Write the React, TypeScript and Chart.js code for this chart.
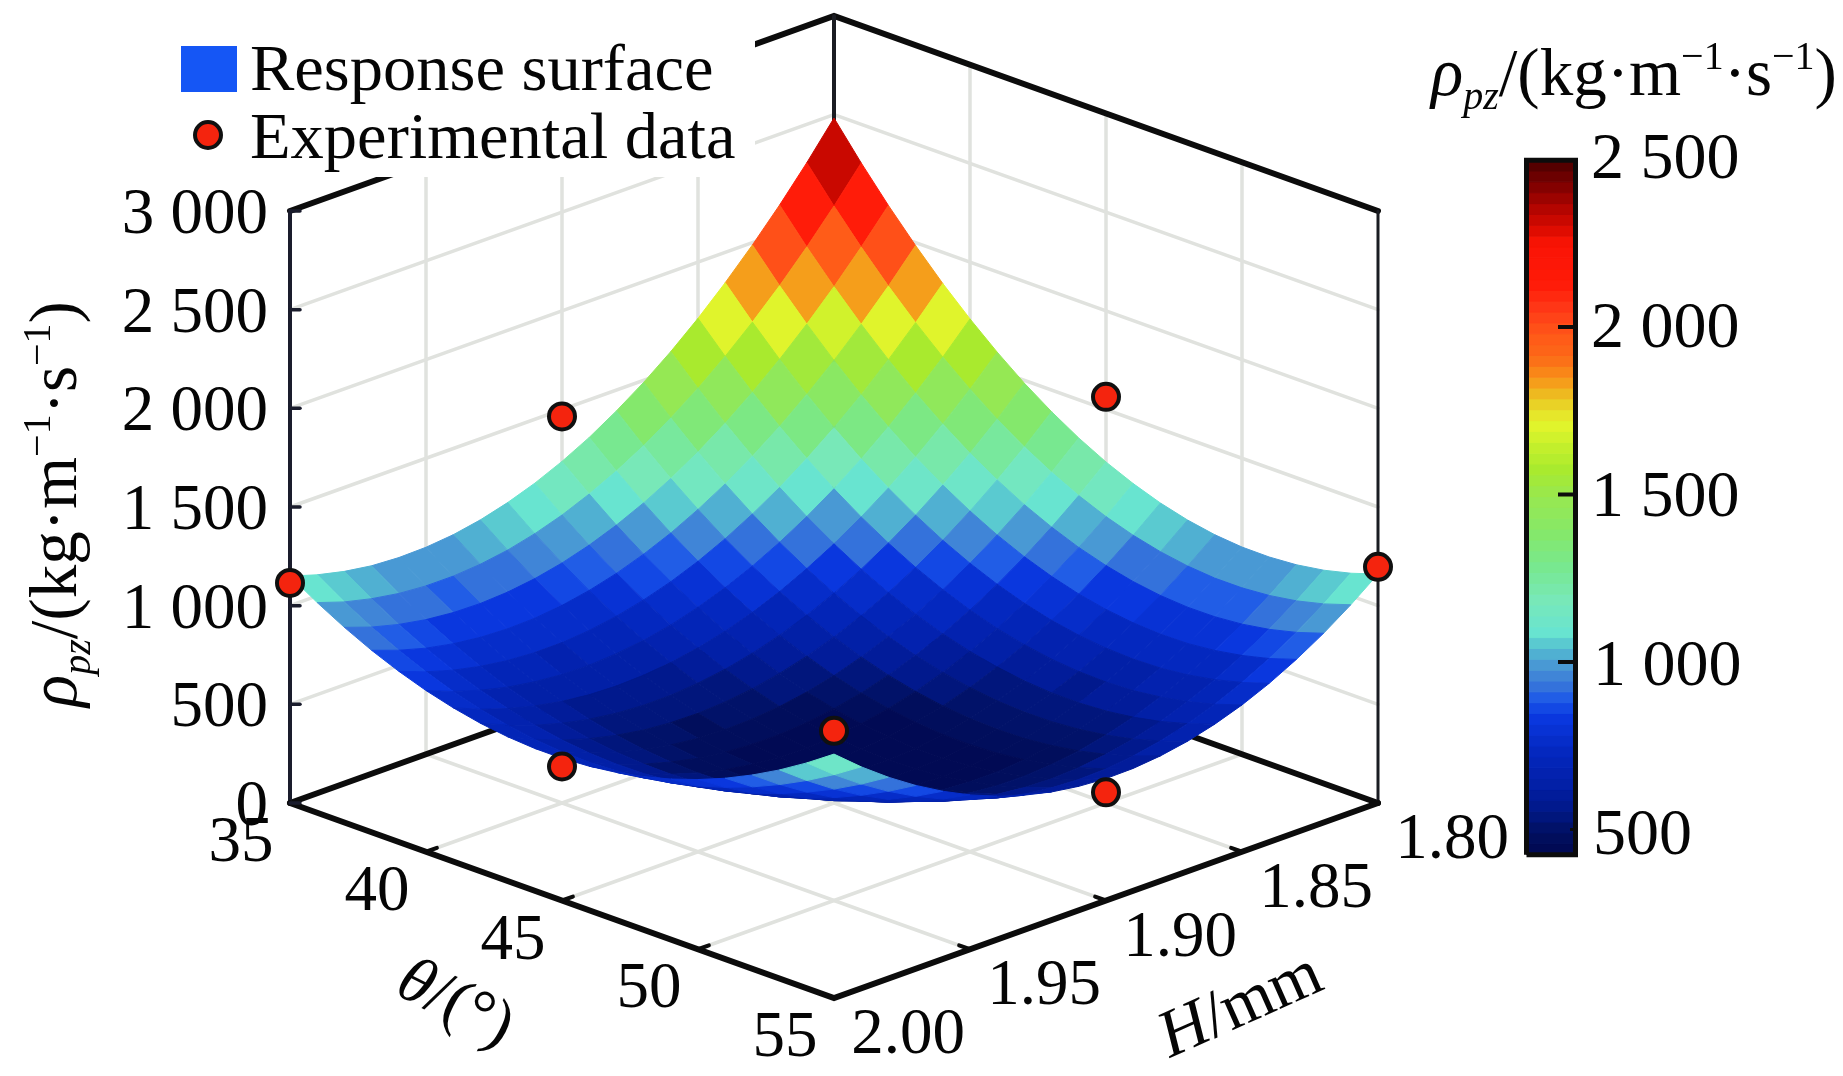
import { useEffect, useRef } from "react";
import { Chart, registerables } from "chart.js";
Chart.register(...registerables);

const thetaValues = [35, 36, 37, 38, 39, 40, 41, 42, 43, 44, 45, 46, 47, 48, 49, 50, 51, 52, 53, 54, 55];
const heightValues = [2.0, 1.99, 1.98, 1.97, 1.96, 1.95, 1.94, 1.93, 1.92, 1.91, 1.9, 1.89, 1.88, 1.87, 1.86, 1.85, 1.84, 1.83, 1.82, 1.81, 1.8];

// one row per height, one column per angle
const surfaceRows = [
  [1150, 1065, 989, 922, 865, 817, 779, 750, 731, 721, 721, 730, 748, 776, 813, 860, 916, 982, 1057, 1142, 1236],
  [1107, 1019, 941, 873, 813, 763, 722, 691, 668, 655, 651, 657, 671, 695, 728, 771, 823, 884, 954, 1033, 1122],
  [1075, 986, 905, 834, 772, 720, 676, 641, 616, 599, 592, 594, 605, 625, 654, 692, 739, 796, 861, 936, 1020],
  [1054, 963, 880, 807, 742, 686, 640, 602, 573, 554, 543, 541, 548, 564, 590, 624, 667, 719, 780, 850, 929],
  [1046, 952, 866, 790, 722, 664, 614, 573, 541, 518, 504, 498, 502, 514, 535, 566, 605, 653, 710, 775, 850],
  [1049, 952, 863, 784, 713, 651, 598, 554, 518, 492, 474, 465, 465, 474, 492, 518, 553, 597, 650, 712, 782],
  [1063, 963, 871, 788, 714, 649, 593, 545, 506, 476, 455, 443, 439, 444, 458, 481, 512, 553, 602, 660, 726],
  [1089, 985, 890, 804, 726, 658, 598, 546, 504, 471, 446, 430, 423, 424, 435, 454, 482, 519, 565, 619, 682],
  [1127, 1019, 920, 830, 749, 676, 613, 558, 512, 475, 446, 427, 416, 415, 422, 437, 462, 496, 538, 589, 649],
  [1176, 1064, 961, 867, 782, 705, 638, 579, 530, 489, 457, 434, 420, 415, 419, 431, 453, 483, 523, 571, 628],
  [1237, 1121, 1013, 915, 825, 745, 673, 611, 558, 513, 478, 451, 434, 425, 426, 436, 454, 482, 518, 564, 618],
  [1309, 1188, 1076, 973, 879, 795, 719, 653, 596, 547, 508, 479, 458, 446, 444, 450, 466, 491, 525, 568, 620],
  [1394, 1267, 1150, 1043, 944, 855, 775, 705, 644, 592, 549, 516, 492, 477, 472, 475, 489, 511, 543, 584, 634],
  [1489, 1358, 1235, 1123, 1020, 926, 842, 767, 702, 646, 600, 563, 536, 518, 510, 511, 522, 542, 571, 611, 659],
  [1596, 1459, 1331, 1214, 1105, 1007, 918, 839, 770, 710, 660, 620, 590, 569, 558, 557, 565, 583, 611, 649, 696],
  [1715, 1572, 1439, 1315, 1202, 1098, 1005, 922, 848, 785, 731, 687, 654, 630, 617, 613, 619, 636, 662, 698, 744],
  [1846, 1696, 1557, 1428, 1309, 1200, 1102, 1014, 936, 869, 812, 765, 728, 702, 686, 680, 684, 699, 724, 759, 804],
  [1988, 1831, 1686, 1551, 1426, 1313, 1209, 1117, 1035, 963, 902, 852, 812, 783, 765, 757, 759, 773, 797, 831, 876],
  [2141, 1978, 1826, 1685, 1555, 1435, 1327, 1229, 1143, 1067, 1003, 949, 907, 875, 854, 844, 845, 857, 880, 914, 959],
  [2306, 2136, 1977, 1829, 1693, 1568, 1455, 1352, 1261, 1182, 1113, 1056, 1011, 977, 954, 942, 942, 953, 975, 1009, 1054],
  [2483, 2305, 2139, 1985, 1842, 1712, 1593, 1485, 1390, 1306, 1234, 1174, 1125, 1088, 1063, 1050, 1049, 1059, 1081, 1115, 1160],
];

const expTheta = [35, 55, 55, 35, 45, 45, 55];
const expHeight = [2.0, 1.8, 2.0, 1.9, 2.0, 1.8, 1.9];
const expValues = [1115, 1197, 1354, 1465, 679, 1564, 548];

const zTicks = [0, 500, 1000, 1500, 2000, 2500, 3000];
const zLabels = ["0", "500", "1 000", "1 500", "2 000", "2 500", "3 000"];
const thetaTicks = [35, 40, 45, 50, 55];
const heightTicks = [2.0, 1.95, 1.9, 1.85, 1.8];
const heightLabels = ["2.00", "1.95", "1.90", "1.85", "1.80"];
const barTicks = [500, 1000, 1500, 2000, 2500];
const barLabels = ["500", "1 000", "1 500", "2 000", "2 500"];

// colour bar
const colorValues = [425, 490, 558, 639, 737, 836, 887, 937, 997, 1045, 1087, 1185, 1284, 1385, 1493, 1573, 1654, 1713, 1761, 1803, 1850, 1910, 1970, 2050, 2131, 2250, 2298, 2358, 2430, 2498];
const colorStops = [
  [1, 8, 80], [1, 16, 96], [1, 24, 136], [2, 32, 168], [4, 40, 192], [10, 56, 224], [28, 88, 232], [58, 120, 216], [74, 156, 212], [85, 192, 208],
  [104, 228, 208], [120, 232, 184], [120, 232, 144], [133, 232, 106], [152, 232, 80], [168, 234, 46], [200, 240, 44], [228, 245, 44], [232, 216, 40], [238, 184, 32],
  [248, 144, 24], [252, 106, 24], [255, 90, 24], [255, 58, 24], [255, 26, 8], [250, 20, 5], [216, 10, 0], [176, 5, 0], [122, 0, 0], [74, 0, 0],
];
const colorLevels = 64;

const serif = '"Liberation Serif", "Times New Roman", serif';

// picture position of a point of the 3D box
const project = (theta: number, height: number, z: number) => {
  const u = (theta - 35) / 20;
  const v = (2.0 - height) / 0.2;
  return {
    x: 290 + 544 * (u + v),
    y: 803 + 195 * (u - v) - (z * 592) / 3000,
  };
};

const colorAt = (value: number) => {
  const min = colorValues[0];
  const max = colorValues[colorValues.length - 1];
  const level = Math.min(colorLevels - 1, Math.max(0, Math.floor(((value - min) / (max - min)) * colorLevels)));
  const center = min + ((level + 0.5) / colorLevels) * (max - min);
  let i = 0;
  while (i < colorValues.length - 2 && colorValues[i + 1] < center) i++;
  const t = (center - colorValues[i]) / (colorValues[i + 1] - colorValues[i]);
  const c = colorStops[i].map((s, k) => Math.round(s + (colorStops[i + 1][k] - s) * t));
  return `rgb(${c[0]},${c[1]},${c[2]})`;
};

const line = (data: any[], color: string, width: number, extra: any = {}) => ({
  data,
  borderColor: color,
  backgroundColor: color,
  borderWidth: width,
  pointRadius: 0,
  fill: false,
  borderCapStyle: "round",
  ...extra,
});

const buildDatasets = () => {
  const list: any[] = [];
  const grid = "rgb(224,226,222)";
  const gridWidth = 3.5;

  // floor and wall grid
  for (const t of [40, 45, 50]) {
    list.push(line([project(t, 2.0, 0), project(t, 1.8, 0), project(t, 1.8, 3000)], grid, gridWidth));
  }
  for (const h of [1.95, 1.9, 1.85]) {
    list.push(line([project(55, h, 0), project(35, h, 0), project(35, h, 3000)], grid, gridWidth));
  }
  for (const z of zTicks.slice(1, -1)) {
    list.push(line([project(35, 2.0, z), project(35, 1.8, z), project(55, 1.8, z)], grid, gridWidth));
  }

  // back edges of the box
  list.push(line([project(35, 2.0, 0), project(35, 1.8, 0), project(55, 1.8, 0)], "#0c0c0c", 6));
  list.push(line([project(35, 2.0, 3000), project(35, 1.8, 3000), project(55, 1.8, 3000)], "#0c0c0c", 6));
  list.push(line([project(35, 1.8, 0), project(35, 1.8, 3000)], "#1a1c22", 4));
  list.push(line([project(35, 2.0, 0), project(35, 2.0, 3000)], "#1a1c2c", 4));
  list.push(line([project(55, 1.8, 0), project(55, 1.8, 3000)], "#1a1c22", 3));

  // white box behind the legend
  list.push(
    line(
      [{ x: 170, y: 40 }, { x: 755, y: 40 }, { x: 755, y: 177 }, { x: 170, y: 177 }, { x: 170, y: 40 }],
      "#fff",
      0,
      { fill: "shape" }
    )
  );

  // surface cells, furthest first
  const cells: any[] = [];
  for (let r = 0; r < heightValues.length - 1; r++) {
    for (let c = 0; c < thetaValues.length - 1; c++) {
      const corners = [
        surfaceRows[r][c],
        surfaceRows[r][c + 1],
        surfaceRows[r + 1][c + 1],
        surfaceRows[r + 1][c],
      ];
      const mean = (corners[0] + corners[1] + corners[2] + corners[3]) / 4;
      const color = colorAt(mean);
      const a = project(thetaValues[c], heightValues[r], corners[0]);
      cells.push({
        depth: c - r,
        ds: line(
          [
            a,
            project(thetaValues[c + 1], heightValues[r], corners[1]),
            project(thetaValues[c + 1], heightValues[r + 1], corners[2]),
            project(thetaValues[c], heightValues[r + 1], corners[3]),
            a,
          ],
          color,
          1,
          { fill: "shape", borderCapStyle: "butt" }
        ),
      });
    }
  }
  cells.sort((p, q) => p.depth - q.depth);
  cells.forEach((cell) => list.push(cell.ds));

  // front edges and ticks
  list.push(line([project(35, 2.0, 0), project(55, 2.0, 0), project(55, 1.8, 0)], "#0c0c0c", 6));
  for (const z of zTicks) {
    const p = project(35, 2.0, z);
    list.push(line([p, { x: p.x + 10, y: p.y }], "#1a1c2c", 3.5));
  }
  for (const t of [40, 45, 50]) {
    list.push(line([project(t, 2.0, 0), project(t, 1.996, 0)], "#0c0c0c", 4));
  }
  for (const h of [1.95, 1.9, 1.85]) {
    list.push(line([project(55, h, 0), project(54.6, h, 0)], "#0c0c0c", 4));
  }

  // experimental points
  list.push(
    line(
      expValues.map((z, i) => project(expTheta[i], expHeight[i], z)),
      "#101010",
      4,
      {
        showLine: false,
        pointRadius: 13,
        pointBackgroundColor: "#f4240e",
        pointBorderColor: "#101010",
        pointBorderWidth: 4,
      }
    )
  );

  // legend marks
  list.push(
    line(
      [{ x: 181, y: 46 }, { x: 237, y: 46 }, { x: 237, y: 92 }, { x: 181, y: 92 }, { x: 181, y: 46 }],
      "#1556f5",
      0,
      { fill: "shape" }
    )
  );
  list.push(
    line([{ x: 208, y: 135 }], "#101010", 4, {
      showLine: false,
      pointRadius: 13,
      pointBackgroundColor: "#f4240e",
      pointBorderColor: "#101010",
      pointBorderWidth: 4,
    })
  );

  // colour bar
  const min = colorValues[0];
  const max = colorValues[colorValues.length - 1];
  for (let i = 0; i < colorLevels; i++) {
    const lo = min + (i / colorLevels) * (max - min);
    const hi = min + ((i + 1) / colorLevels) * (max - min);
    list.push(
      line(
        [{ x: 1527, y: lo }, { x: 1576, y: lo }, { x: 1576, y: hi }, { x: 1527, y: hi }, { x: 1527, y: lo }],
        colorAt((lo + hi) / 2),
        1,
        { fill: "shape", yAxisID: "barY", borderCapStyle: "butt" }
      )
    );
  }
  list.push(
    line(
      [{ x: 1526.5, y: min }, { x: 1575.5, y: min }, { x: 1575.5, y: max }, { x: 1526.5, y: max }, { x: 1526.5, y: min }],
      "#0c0c0c",
      5,
      { yAxisID: "barY", borderCapStyle: "butt" }
    )
  );
  for (const t of barTicks.slice(1, -1)) {
    list.push(line([{ x: 1558, y: t }, { x: 1575, y: t }], "#0c0c0c", 4, { yAxisID: "barY", borderCapStyle: "butt" }));
  }
  list.push(line([{ x: 1570, y: 500 }, { x: 1575, y: 500 }], "#0c0c0c", 3, { yAxisID: "barY", borderCapStyle: "butt" }));

  list.forEach((d, i) => (d.order = -i));
  return list;
};

type Run = { t: string; size: number; italic?: boolean; dy?: number };

const titleRuns: Run[] = [
  { t: "ρ", size: 67, italic: true },
  { t: "pz", size: 40, italic: true, dy: 14 },
  { t: "/(kg·m", size: 67 },
  { t: "−1", size: 40, dy: -26 },
  { t: "·s", size: 67 },
  { t: "−1", size: 40, dy: -26 },
  { t: ")", size: 67 },
];

const runFont = (r: Run) => `${r.italic ? "italic " : ""}${r.size}px ${serif}`;

const drawRuns = (ctx: CanvasRenderingContext2D, runs: Run[], x: number, y: number) => {
  let cx = x;
  for (const r of runs) {
    ctx.font = runFont(r);
    ctx.fillText(r.t, cx, y + (r.dy || 0));
    cx += ctx.measureText(r.t).width;
  }
};

const textPlugin = {
  id: "pictureText",
  afterDraw(chart: any) {
    const { ctx, scales } = chart;
    const px = (x: number) => scales.x.getPixelForValue(x);
    const py = (y: number) => scales.y.getPixelForValue(y);
    ctx.save();
    ctx.fillStyle = "#050505";
    ctx.textBaseline = "alphabetic";

    const label = (text: string, x: number, y: number, align: CanvasTextAlign, size = 65) => {
      ctx.font = `${size}px ${serif}`;
      ctx.textAlign = align;
      ctx.fillText(text, px(x), py(y));
    };

    // legend
    label("Response surface", 250, 90, "left", 66.5);
    label("Experimental data", 250, 158, "left", 66.5);

    // value axis
    zTicks.forEach((z, i) => {
      const p = project(35, 2.0, z);
      label(zLabels[i], 268, p.y + 22, "right");
    });

    // angle and height axes
    thetaTicks.forEach((t) => {
      const p = project(t, 2.0, 0);
      label(String(t), p.x - 49, p.y + 58, "center");
    });
    heightTicks.forEach((h, i) => {
      const p = project(55, h, 0);
      label(heightLabels[i], p.x + 74, p.y + 55, "center");
    });

    // colour bar labels, the top ones sit a little higher
    barTicks.forEach((t, i) => {
      ctx.font = `66px ${serif}`;
      ctx.textAlign = "left";
      const lift = ((t - 500) / 2000) * 6;
      ctx.fillText(barLabels[i], i === 0 || i === 1 ? px(1593) : px(1591), scales.barY.getPixelForValue(t) + 24 - lift);
    });

    // titles
    ctx.textAlign = "left";
    drawRuns(ctx, titleRuns, px(1431), py(95));

    ctx.save();
    ctx.translate(px(76), py(707));
    ctx.rotate(-Math.PI / 2);
    drawRuns(ctx, titleRuns, 0, 0);
    ctx.restore();

    ctx.save();
    ctx.translate(px(402), py(975));
    ctx.rotate((27 * Math.PI) / 180);
    drawRuns(ctx, [{ t: "θ", size: 66, italic: true }, { t: "/(°)", size: 66 }], 0, 20);
    ctx.restore();

    ctx.save();
    ctx.translate(px(1170), py(1058));
    ctx.rotate((-24 * Math.PI) / 180);
    drawRuns(ctx, [{ t: "H", size: 67, italic: true }, { t: "/mm", size: 67 }], 0, 0);
    ctx.restore();

    ctx.restore();
  },
};

const App = () => {
  const canvasRef = useRef<HTMLCanvasElement>(null);

  useEffect(() => {
    document.body.style.margin = "0";
    document.body.style.background = "#fff";
    if (!canvasRef.current) return;

    const chart = new Chart(canvasRef.current, {
      type: "line",
      data: { datasets: buildDatasets() },
      options: {
        responsive: false,
        animation: false,
        devicePixelRatio: 1,
        events: [],
        layout: { padding: 0, autoPadding: false },
        plugins: { legend: { display: false }, tooltip: { enabled: false } },
        scales: {
          x: { type: "linear", min: 0, max: 1843, display: false },
          y: { type: "linear", min: 0, max: 1076, reverse: true, display: false },
          // value 2500 sits at 159.5 in the picture, 335 units of picture per 1000
          barY: { type: "linear", min: 2000 - (1076 - 327) / 0.335, max: 2000 + 327 / 0.335, display: false },
        },
      },
      plugins: [textPlugin],
    } as any);

    return () => chart.destroy();
  }, []);

  return <canvas ref={canvasRef} width={1843} height={1076} style={{ display: "block" }} />;
};

export default App;
